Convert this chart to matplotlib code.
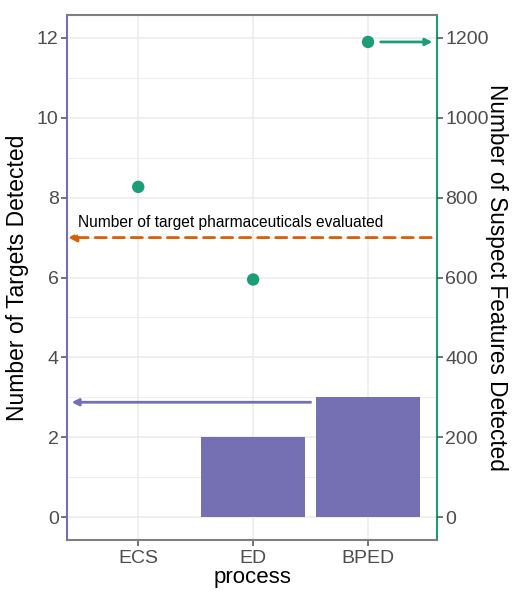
import numpy as np
import matplotlib
matplotlib.use("Agg")
import matplotlib.pyplot as plt

# data
processes = ["ECS", "ED", "BPED"]
targets = [0, 2, 3]
suspects = [827, 595, 1190]
n_evaluated = 7
scale = 100  # secondary axis = primary * 100

purple = "#7570b3"
green = "#1b9e77"
orange = "#d95f02"
grey = "#4d4d4d"

plt.rcParams['font.family'] = ['Liberation Sans', 'DejaVu Sans']

fig = plt.figure(figsize=(5.16, 5.92), dpi=100)
ax = fig.add_axes([67/516, 1-540/592, 370/516, 525/592])
x = np.arange(1, len(processes)+1)

ax.set_xlim(0.38, 3.6)
ax.set_ylim(-0.575, 12.575)
ax.set_yticks([0, 2, 4, 6, 8, 10, 12])
ax.set_yticks([1, 3, 5, 7, 9, 11], minor=True)
ax.grid(True, which='major', color='#ebebeb', lw=1.1, zorder=0)
ax.grid(True, which='minor', axis='y', color='#ebebeb', lw=0.6, zorder=0)
ax.set_axisbelow(True)

ax.bar(x, targets, width=0.9, color=purple, zorder=2)
ax.scatter(x, np.array(suspects)/scale, s=80, color=green, zorder=3, edgecolors='none')

# orange dashed line: number evaluated
ax.annotate("", xy=(0.39, n_evaluated), xytext=(3.55, n_evaluated),
            arrowprops=dict(arrowstyle="-|>", color=orange, lw=2, linestyle=(0, (4, 2.5)),
                            mutation_scale=12, shrinkA=0, shrinkB=0), zorder=4)
ax.text(0.48, n_evaluated+0.2, "Number of target pharmaceuticals evaluated",
        fontsize=11.2, color='black', va='bottom', ha='left')

# purple arrow pointing to left axis
ax.annotate("", xy=(0.42, 2.875), xytext=(2.5, 2.875),
            arrowprops=dict(arrowstyle="-|>", color=purple, lw=2, mutation_scale=10,
                            shrinkA=0, shrinkB=0), zorder=4)
# green arrow pointing to right axis
ax.annotate("", xy=(3.56, suspects[2]/scale), xytext=(3.11, suspects[2]/scale),
            arrowprops=dict(arrowstyle="-|>", color=green, lw=2, mutation_scale=10,
                            shrinkA=0, shrinkB=0), zorder=4)

ax.set_xticks(x)
ax.set_xticklabels(processes)
ax.tick_params(axis='both', colors=grey, labelsize=14, length=4, width=1.1, pad=2)
ax.tick_params(axis='x', pad=3)
ax.tick_params(axis='y', which='minor', length=0)
ax.set_xlabel("process", fontsize=16, labelpad=0)
ax.set_ylabel("Number of Targets Detected", fontsize=16.5, labelpad=6)

for s in ['top', 'bottom']:
    ax.spines[s].set_color('#7f7f7f')
ax.spines['left'].set_color(purple)
ax.spines['right'].set_color(green)
for s in ax.spines.values():
    s.set_linewidth(1.5)

ax2 = ax.twinx()
ax2.set_ylim(-0.575*scale, 12.575*scale)
ax2.set_yticks([0, 200, 400, 600, 800, 1000, 1200])
ax2.tick_params(axis='y', colors=grey, labelsize=14, length=4, width=1.1, pad=2)
ax2.set_ylabel("Number of Suspect Features Detected", fontsize=16.3, rotation=270, labelpad=14)
for s in ax2.spines.values():
    s.set_visible(False)

fig.savefig("out.png", dpi=100)
